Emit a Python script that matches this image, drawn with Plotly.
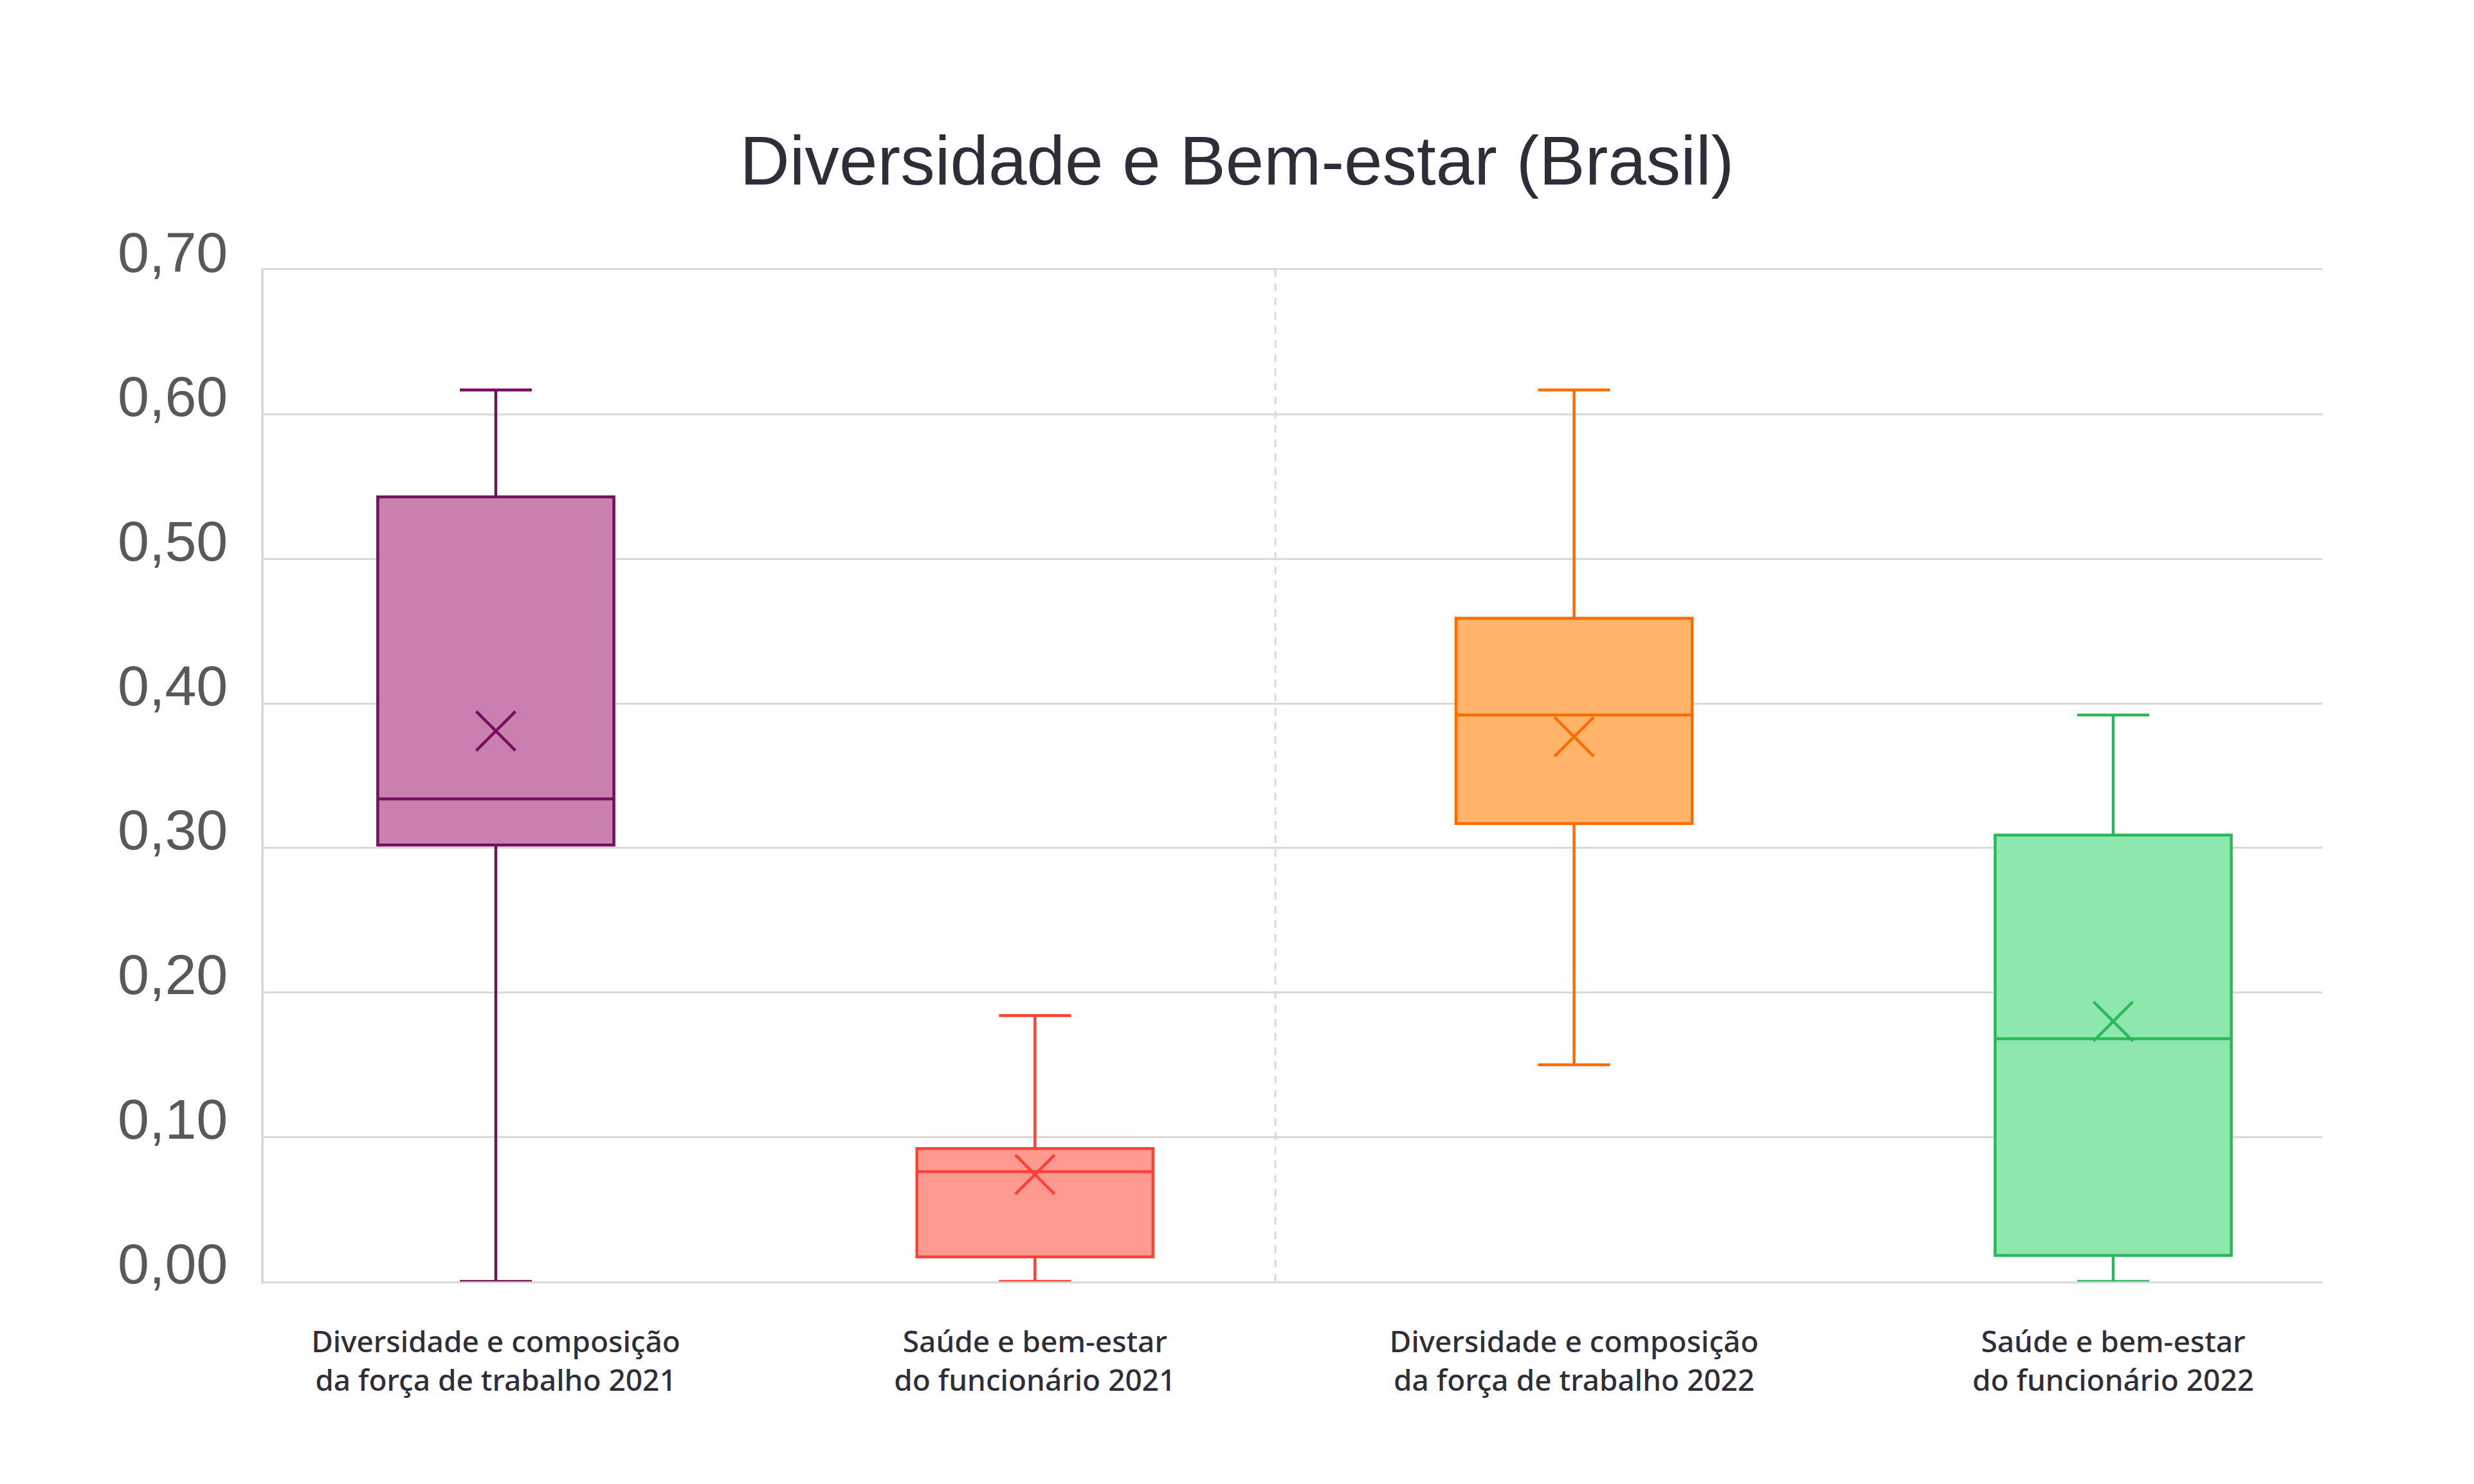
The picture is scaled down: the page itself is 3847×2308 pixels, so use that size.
import plotly.graph_objects as go

# ---- data ----
categories = [
    "Diversidade e composição<br>da força de trabalho 2021",
    "Saúde e bem-estar<br>do funcionário 2021",
    "Diversidade e composição<br>da força de trabalho 2022",
    "Saúde e bem-estar<br>do funcionário 2022",
]
lower_whisker = [0.000, 0.000, 0.150, 0.000]
q1_values     = [0.302, 0.017, 0.317, 0.018]
median_values = [0.334, 0.076, 0.392, 0.168]
q3_values     = [0.543, 0.092, 0.459, 0.309]
upper_whisker = [0.617, 0.184, 0.617, 0.392]
mean_values   = [0.381, 0.074, 0.377, 0.180]

y_tick_values = [0.0, 0.1, 0.2, 0.3, 0.4, 0.5, 0.6, 0.7]
y_tick_labels = ["0,00", "0,10", "0,20", "0,30", "0,40", "0,50", "0,60", "0,70"]

line_colors = ["#750E5C", "#FF4136", "#FF6D00", "#2DB757"]
fill_colors = ["#C980AE", "#FF9A91", "#FFB46A", "#8CE8AD"]

# ---- layout constants ----
W, H = 3847, 2308
divider_x = 1.446
text_dark = "#2E2E38"
grid_col = "#D9D9D9"

positions = list(range(len(categories)))

fig = go.Figure()

for i in positions:
    fig.add_trace(go.Box(
        x=[positions[i]],
        q1=[q1_values[i]],
        median=[median_values[i]],
        q3=[q3_values[i]],
        lowerfence=[lower_whisker[i]],
        upperfence=[upper_whisker[i]],
        width=0.438,
        whiskerwidth=0.305,
        line=dict(color=line_colors[i], width=4.5),
        fillcolor=fill_colors[i],
        boxpoints=False,
        showlegend=False,
        hoverinfo="skip",
    ))

fig.add_trace(go.Scatter(
    x=positions,
    y=mean_values,
    mode="markers",
    marker=dict(
        symbol="x-thin",
        size=61,
        color=line_colors,
        line=dict(color=line_colors, width=4.5),
    ),
    showlegend=False,
    hoverinfo="skip",
))

fig.add_vline(x=divider_x, line=dict(color=grid_col, width=3, dash="12px,10px"), layer="below")

# y tick labels sit with their baseline on the gridline (as in the reference)
for v, lab in zip(y_tick_values, y_tick_labels):
    fig.add_annotation(
        x=0, xref="paper", y=v, yref="y",
        text=lab, showarrow=False,
        xanchor="right", yanchor="middle",
        xshift=-54, yshift=28,
        font=dict(family="Liberation Sans, Arial, sans-serif", size=88, color="#595959"),
    )

fig.update_layout(
    width=W,
    height=H,
    paper_bgcolor="white",
    plot_bgcolor="white",
    margin=dict(l=410, r=236, t=420, b=315),
    title=dict(
        text="Diversidade e Bem-estar (Brasil)",
        x=0.5,
        xref="container",
        y=1 - 250 / H,
        yref="container",
        xanchor="center",
        yanchor="middle",
        font=dict(family="Liberation Sans, Arial, sans-serif", size=107, color=text_dark),
    ),
    xaxis=dict(
        range=[-0.4306, 3.3877],
        tickmode="array",
        tickvals=positions,
        ticktext=categories,
        showgrid=False,
        zeroline=False,
        showline=True,
        mirror=True,
        linecolor=grid_col,
        linewidth=3,
        ticks="",
        ticklabelstandoff=52,
        tickfont=dict(family="Noto Sans", size=46, color=text_dark, weight=500),
    ),
    yaxis=dict(
        range=[0, 0.7],
        tickmode="array",
        tickvals=y_tick_values,
        showticklabels=False,
        showgrid=True,
        gridcolor=grid_col,
        gridwidth=3,
        zeroline=False,
        showline=True,
        linecolor=grid_col,
        linewidth=4,
        ticks="",
    ),
)

fig.write_html(
    "out.html",
    config={"displayModeBar": False},
    post_script="document.body.style.margin='0px';",
)
